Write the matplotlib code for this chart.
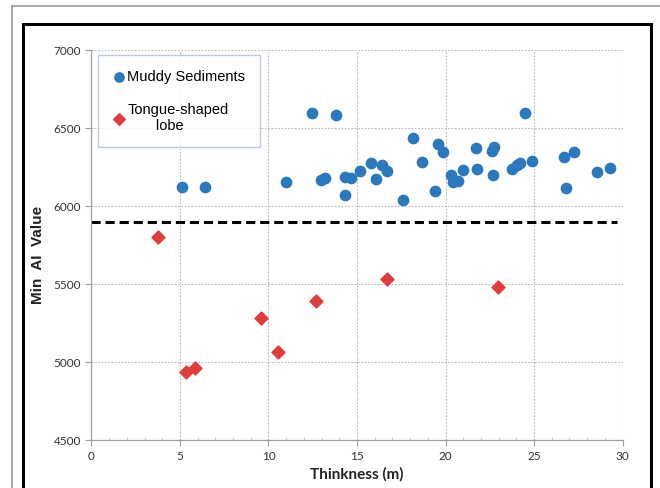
import matplotlib
matplotlib.use("Agg")
import matplotlib.pyplot as plt
from matplotlib.lines import Line2D
from matplotlib.patches import Rectangle
from matplotlib.ticker import MultipleLocator

# Muddy sediments (blue circles)
muddy_x = [5.10, 6.41, 10.99, 12.47, 13.80, 12.97, 13.19, 14.32, 14.66, 14.32,
           15.17, 15.77, 16.41, 16.68, 16.09, 17.60, 18.18, 18.69, 19.59, 19.88,
           19.41, 20.29, 20.40, 20.72, 21.00, 21.76, 21.71, 22.64, 22.74, 22.70,
           23.77, 24.02, 24.21, 24.90, 24.49, 26.68, 27.26, 26.81, 28.58, 29.28]
muddy_y = [6126, 6122, 6158, 6600, 6587, 6169, 6179, 6190, 6183, 6072,
           6228, 6279, 6267, 6224, 6175, 6038, 6436, 6282, 6397, 6348,
           6100, 6201, 6158, 6164, 6233, 6239, 6374, 6356, 6382, 6201,
           6239, 6265, 6276, 6290, 6600, 6314, 6348, 6115, 6218, 6247]

# Tongue-shaped lobe (red diamonds)
lobe_x = [3.74, 5.34, 5.85, 9.58, 10.56, 12.68, 16.68, 22.98]
lobe_y = [5805, 4936, 4962, 5286, 5064, 5391, 5532, 5485]

# threshold line
cut_x = [0, 29.7]
cut_y = [5900, 5900]

BLUE = "#2a78bd"
RED = "#e03c3c"
TICK_FONT = "Lato"

fig = plt.figure(figsize=(6.6, 4.88), dpi=100)
ax = fig.add_axes([0.1386, 0.0977, 0.8046, 0.7993])

# outer page frames
fig.add_artist(Line2D([12 / 660, 1], [1 - 6 / 488, 1 - 6 / 488], color="#9a9a9a", lw=1.2))
fig.add_artist(Line2D([12 / 660, 12 / 660], [0, 1 - 6 / 488], color="#9a9a9a", lw=1.2))
fig.add_artist(Rectangle((23 / 660, -0.05), (651 - 23) / 660, 1.05 - 24 / 488,
                         fill=False, edgecolor="black", lw=2.2))

ax.scatter(muddy_x, muddy_y, s=55, marker="o", color=BLUE, zorder=3,
           label="Muddy Sediments")
ax.scatter(lobe_x, lobe_y, s=44, marker="D", color=RED, zorder=3,
           label="Tongue-shaped\n       lobe")
ax.plot(cut_x, cut_y, color="black", lw=2.2, linestyle=(0, (3.0, 1.6)), zorder=2)

ax.set_xlim(0, 30)
ax.set_ylim(4500, 7000)
ax.xaxis.set_major_locator(MultipleLocator(5))
ax.xaxis.set_minor_locator(MultipleLocator(1))
ax.yaxis.set_major_locator(MultipleLocator(500))

ax.grid(True, which="major", color="#b8b8b8", linestyle=(0, (1.5, 1.5)), lw=0.8)
ax.set_axisbelow(True)
for side in ("top", "right"):
    ax.spines[side].set_visible(False)
for side in ("left", "bottom"):
    ax.spines[side].set_color("#a0a0a0")
    ax.spines[side].set_linewidth(0.9)

ax.tick_params(axis="both", which="major", length=4, width=0.8, color="#a0a0a0",
               labelsize=8.5, labelcolor="#333333", direction="out")
ax.tick_params(axis="x", which="minor", length=2.5, width=0.6, color="#c0c0c0",
               direction="in")
for lbl in ax.get_xticklabels() + ax.get_yticklabels():
    lbl.set_family(TICK_FONT)

ax.set_xlabel("Thinkness (m)", fontsize=11, fontweight="bold", family=TICK_FONT,
              color="#222222", labelpad=4)
ax.set_ylabel("Min  AI  Value", fontsize=11, fontweight="bold",
              family="Liberation Sans", color="#222222")
ax.yaxis.set_label_coords(-0.088, 0.475)

leg = ax.legend(loc="upper left", bbox_to_anchor=(0.006, 0.995), frameon=True,
                fancybox=False, prop={"family": "Liberation Sans", "size": 10.5},
                handletextpad=0.05, handlelength=1.0, labelspacing=1.3,
                borderpad=1.0, markerscale=0.9, borderaxespad=0.2)
leg.get_frame().set_edgecolor("#a9bfd6")
leg.get_frame().set_linewidth(1.0)

fig.savefig("out.png", dpi=100)
